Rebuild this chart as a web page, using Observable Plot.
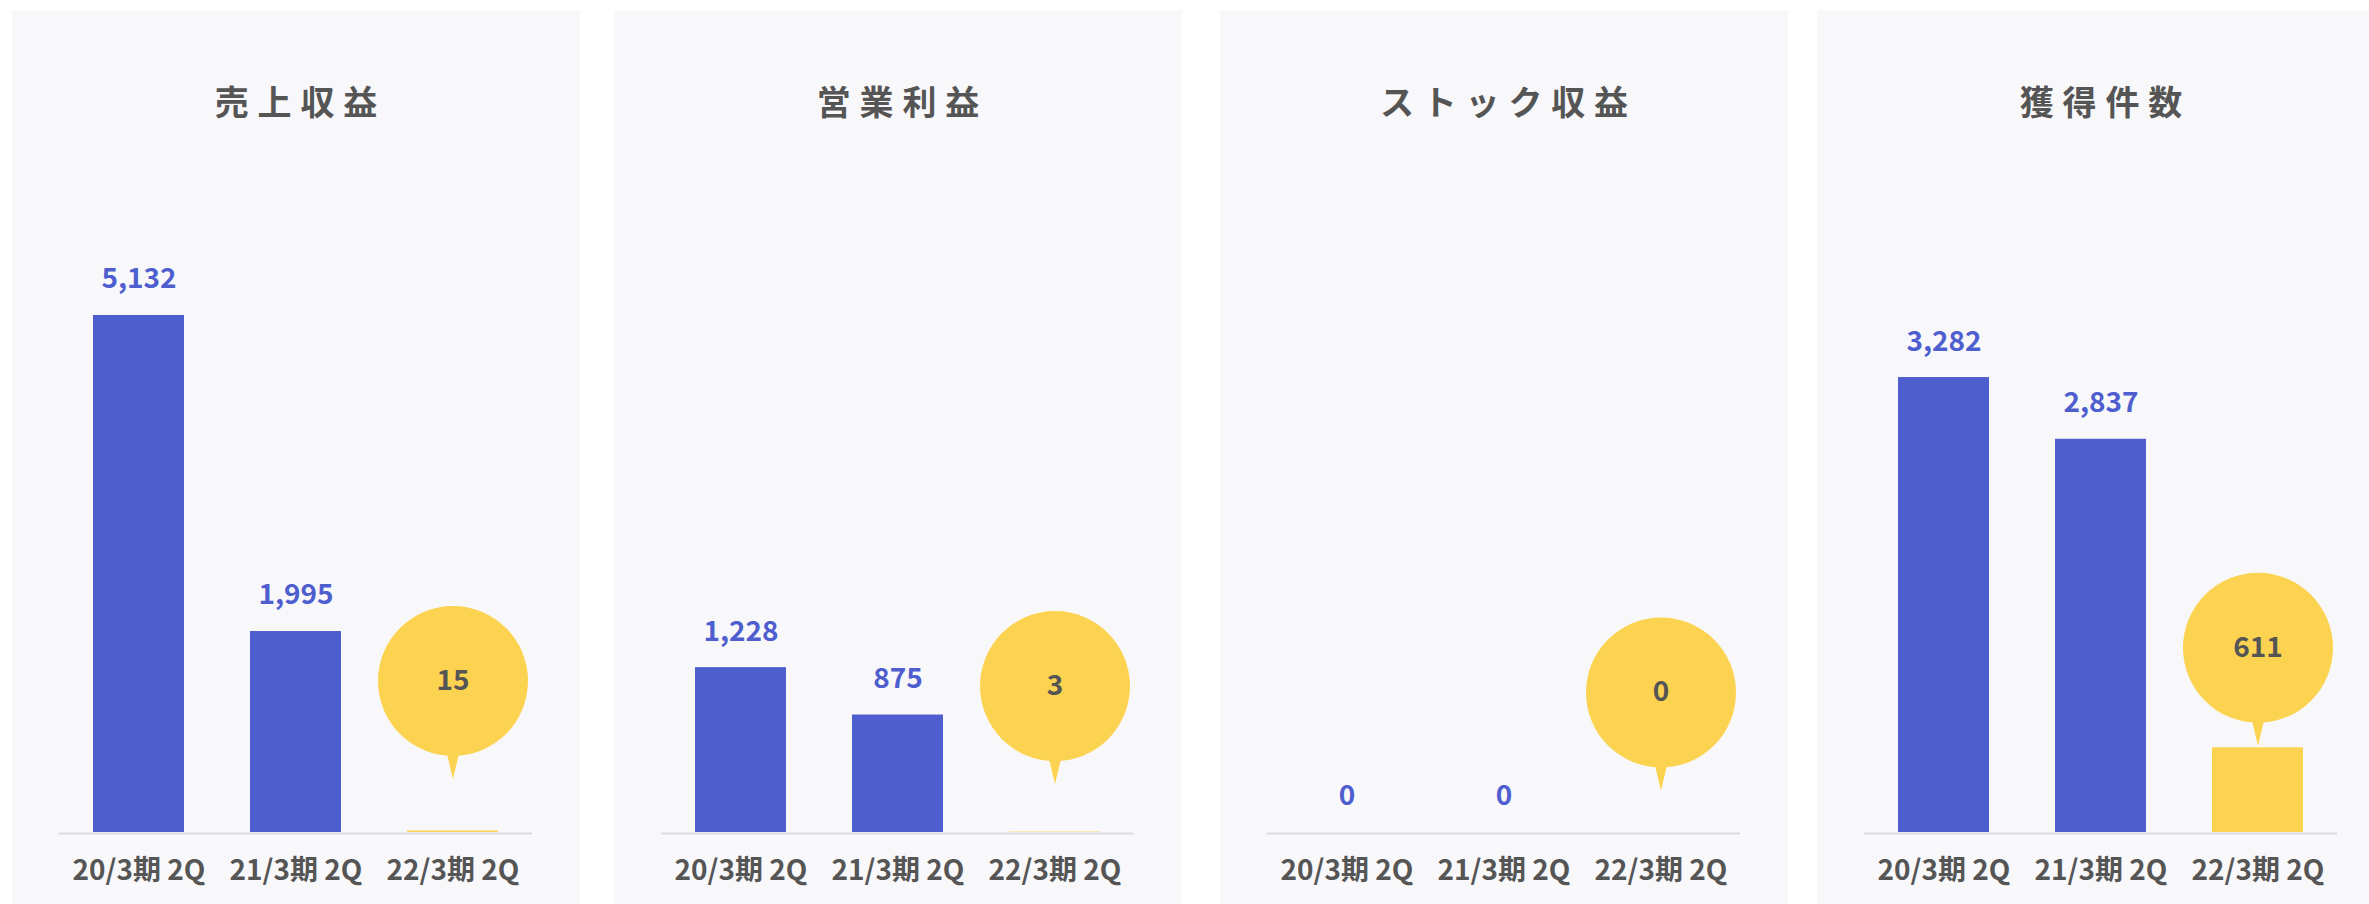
<!DOCTYPE html>
<html>
<head>
<meta charset="utf-8">
<script src="https://cdn.jsdelivr.net/npm/d3@7"></script>
<script src="https://cdn.jsdelivr.net/npm/@observablehq/plot@0.6"></script>
<style>
  html, body { margin: 0; padding: 0; background: #ffffff; }
  body { width: 2369px; height: 904px; overflow: hidden; position: relative;
         font-family: "Noto Sans CJK JP", "Noto Sans", sans-serif; }
  .card { position: absolute; top: 10px; width: 568px; height: 894px; background: #f8f8fa; }
  .title { position: absolute; left: 0; top: 0; width: 100%; height: 182px; line-height: 182px;
           text-align: center; font-size: 34px; font-weight: 700; color: #555555;
           letter-spacing: 0.26em; text-indent: 0.26em; }
  .chart { position: absolute; left: 0; top: 140px; }
</style>
</head>
<body>
<script>
// ---- data ----
const periods = ["20/3期 2Q", "21/3期 2Q", "22/3期 2Q"];
const titles = ["売上収益", "営業利益", "ストック収益", "獲得件数"];
const salesRevenue = [5132, 1995, 15];
const operatingProfit = [1228, 875, 3];
const stockRevenue = [0, 0, 0];
const acquisitions = [3282, 2837, 611];
const currentPeriod = "22/3期 2Q";

// ---- layout / style ----
const series = [salesRevenue, operatingProfit, stockRevenue, acquisitions];
const cardLeft = [12, 614, 1220, 1817];
const yMax = [6770, 5080, 1, 4920];
const bubbleLift = [150, 146, 140, 100];
const BLUE = "#4f5ecf";
const YELLOW = "#fcd350";
const GRAY = "#555555";

series.forEach((values, k) => {
  const data = periods.map((p, i) => ({period: p, value: values[i], current: p === currentPeriod}));
  const past = data.filter(d => !d.current);
  const cur = data.filter(d => d.current);
  const lift = bubbleLift[k];

  const card = document.createElement("div");
  card.className = "card";
  card.style.left = cardLeft[k] + "px";
  const title = document.createElement("div");
  title.className = "title";
  title.textContent = titles[k];
  card.appendChild(title);

  const chart = Plot.plot({
    width: 568,
    height: 754,
    marginLeft: 47,
    marginRight: 48,
    marginTop: 0,
    marginBottom: 72,
    style: {background: "transparent", overflow: "visible", fontFamily: '"Noto Sans CJK JP", sans-serif'},
    x: {domain: periods, paddingInner: 0.42, paddingOuter: 0.21, label: null, axis: null},
    y: {domain: [0, yMax[k]], axis: null},
    marks: [
      Plot.barY(past, {x: "period", y: "value", fill: BLUE}),
      Plot.barY(cur, {x: "period", y: "value", fill: YELLOW}),
      Plot.ruleY([0], {stroke: "#dcdcdf", strokeWidth: 2, dy: 1}),
      Plot.text(past, {x: "period", y: "value", text: d => d3.format(",")(d.value), dy: -36,
                       fill: BLUE, fontSize: 28, fontWeight: 700}),
      Plot.dot(cur, {x: "period", y: "value", r: 75, fill: YELLOW, stroke: "none", dy: -lift}),
      Plot.vector(cur, {x: "period", y: "value", shape: "spike", length: 25, r: 6, rotate: 180,
                        anchor: "start", fill: YELLOW, stroke: "none", dy: -lift + 73}),
      Plot.text(cur, {x: "period", y: "value", text: d => d3.format(",")(d.value), dy: -lift,
                      fill: GRAY, fontSize: 28, fontWeight: 700}),
      Plot.axisX({tickSize: 0, tickPadding: 28, fontSize: 28, fontWeight: 700, fill: GRAY, label: null})
    ]
  });
  chart.classList.add("chart");
  card.appendChild(chart);
  document.body.appendChild(card);
});
</script>
</body>
</html>
